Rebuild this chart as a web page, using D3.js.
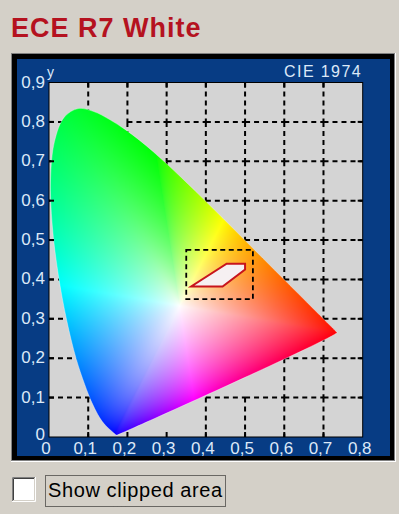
<!DOCTYPE html>
<html><head><meta charset="utf-8">
<script src="https://cdn.jsdelivr.net/npm/d3@7"></script>
<style>
html,body{margin:0;padding:0;background:#d4d0c8;}
svg{display:block;}
</style></head><body>
<svg id="chart" width="399" height="514"></svg>
<script>
// CIE 1931 spectral locus: wavelength (nm) and chromaticity x, y
const wavelengths = [380,400,420,430,440,450,460,465,470,475,480,485,490,495,500,505,510,515,520,525,530,535,540,545,550,555,560,565,570,575,580,585,590,595,600,610,620,630,640,650,660,680,700];
const locusX = [0.1741,0.1733,0.1714,0.1689,0.1644,0.1566,0.1440,0.1355,0.1241,0.1096,0.0913,0.0687,0.0454,0.0235,0.0082,0.0039,0.0139,0.0389,0.0743,0.1142,0.1547,0.1929,0.2296,0.2658,0.3016,0.3373,0.3731,0.4087,0.4441,0.4788,0.5125,0.5448,0.5752,0.6029,0.6270,0.6658,0.6915,0.7079,0.7190,0.7260,0.7300,0.7334,0.7347];
const locusY = [0.0050,0.0048,0.0051,0.0069,0.0109,0.0177,0.0297,0.0399,0.0578,0.0868,0.1327,0.2007,0.2950,0.4127,0.5384,0.6548,0.7502,0.8120,0.8338,0.8262,0.8059,0.7816,0.7543,0.7243,0.6923,0.6589,0.6245,0.5896,0.5547,0.5202,0.4866,0.4544,0.4242,0.3965,0.3725,0.3340,0.3083,0.2920,0.2809,0.2740,0.2700,0.2666,0.2653];
const whitePoint = [1/3, 1/3];

// axis ticks and labels
const xTicks = [0,0.1,0.2,0.3,0.4,0.5,0.6,0.7,0.8];
const yTicks = [0,0.1,0.2,0.3,0.4,0.5,0.6,0.7,0.8,0.9];
const xTickLabels = ["0","0,1","0,2","0,3","0,4","0,5","0,6","0,7","0,8"];
const yTickLabels = ["0","0,1","0,2","0,3","0,4","0,5","0,6","0,7","0,8","0,9"];

// ECE R7 white tolerance area
const whiteX = [0.3625,0.4427,0.5000,0.5000,0.4530];
const whiteY = [0.3820,0.3820,0.4250,0.4400,0.4400];

// detail window around the tolerance area
const boxX = [0.35,0.52];
const boxY = [0.35,0.475];

const svg = d3.select("#chart");
const x = d3.scaleLinear().domain([0,0.8]).range([49,362.7]);
const y = d3.scaleLinear().domain([0,0.9]).range([437,82.5]);

// sunken panel frame
svg.append("rect").attr("x",11).attr("y",53).attr("width",385).attr("height",409).attr("fill","#ffffff");
svg.append("rect").attr("x",11).attr("y",53).attr("width",384).attr("height",408).attr("fill","#808080");
svg.append("rect").attr("x",12).attr("y",54).attr("width",382).attr("height",406).attr("fill","#000000");
svg.append("rect").attr("x",17).attr("y",59).attr("width",373).attr("height",397).attr("fill","#073c84");

// plot background
const px0 = x(0), px1 = x(0.8), py0 = y(0.9), py1 = y(0);
svg.append("rect").attr("x",px0).attr("y",py0).attr("width",px1-px0).attr("height",py1-py0).attr("fill","#d4d4d4");

const locus = locusX.map((d,i)=>[d, locusY[i]]);
const inside = p => d3.polygonContains(locus, p);

// dashed grid, one cell edge at a time; an edge whose starting corner
// lies in the colour area is skipped (verticals run top-down, horizontals left-right)
const grid = svg.append("g").attr("stroke","#000").attr("stroke-width",2).attr("stroke-dasharray","5,4");
xTicks.slice(1,-1).forEach(xv => {
  for (let i = yTicks.length-1; i > 0; i--) {
    if (!inside([xv,yTicks[i]]))
      grid.append("line").attr("x1",x(xv)).attr("x2",x(xv)).attr("y1",y(yTicks[i])).attr("y2",y(yTicks[i-1]));
  }
});
yTicks.slice(1,-1).forEach(yv => {
  for (let i = 0; i < xTicks.length-1; i++) {
    if (!inside([xTicks[i],yv]))
      grid.append("line").attr("y1",y(yv)).attr("y2",y(yv)).attr("x1",x(xTicks[i])).attr("x2",x(xTicks[i+1]));
  }
});

// xy <-> u'v'
const toUV = (cx,cy) => { const d = -2*cx + 12*cy + 3; return [4*cx/d, 9*cy/d]; };
const toXY = (u,v) => { const d = 6*u - 16*v + 12; return [9*u/d, 4*v/d]; };

// saturated colour of a chromaticity (CIE RGB primaries, brightest channel = 1)
function saturated(cx, cy){
  const X = cx/cy, Y = 1, Z = (1-cx-cy)/cy;
  const r = Math.max(0, 0.41847*X - 0.15866*Y - 0.082835*Z);
  const g = Math.max(0, -0.091169*X + 0.25243*Y + 0.015708*Z);
  const b = Math.max(0, 0.0009209*X - 0.0025498*Y + 0.1786*Z);
  const m = Math.max(r,g,b) || 1;
  return [r,g,b].map(v => Math.pow(v/m, 1/1.5));
}

// rim of the locus seen from the white point in u'v', one entry per direction
const N = 2880;
const wUV = toUV(whitePoint[0], whitePoint[1]);
const rimUV = locus.map(p => toUV(p[0],p[1]));
rimUV.push(rimUV[0]);
const rim = d3.range(N).map(k => {
  const a = 2*Math.PI*k/N, dx = Math.cos(a), dy = Math.sin(a);
  let best = Infinity;
  for (let i=0;i<rimUV.length-1;i++){
    const [ax,ay] = rimUV[i], [bx,by] = rimUV[i+1];
    const ex = bx-ax, ey = by-ay;
    const den = dx*ey - dy*ex;
    if (Math.abs(den) < 1e-12) continue;
    const wx = ax-wUV[0], wy = ay-wUV[1];
    const s = (wx*ey - wy*ex)/den, u = (wx*dy - wy*dx)/den;
    if (s > 0 && u >= 0 && u <= 1 && s < best) best = s;
  }
  const p = toXY(wUV[0] + dx*best*0.995, wUV[1] + dy*best*0.995);
  return {R: best, c: saturated(p[0], p[1])};
});

// fill colour: blend from white at the white point to the saturated rim colour
function fillColour(cx, cy){
  const [u,v] = toUV(cx,cy);
  const dx = u-wUV[0], dy = v-wUV[1];
  let a = Math.atan2(dy,dx); if (a < 0) a += 2*Math.PI;
  const e = rim[Math.round(a/(2*Math.PI)*N) % N];
  const f = Math.pow(Math.min(1, Math.hypot(dx,dy)/e.R), 0.85);
  return e.c.map(c => Math.round(255*((1-f) + f*c)));
}

const W = Math.ceil(px1-px0), H = Math.ceil(py1-py0);
const cv = document.createElement("canvas");
cv.width = W; cv.height = H;
const ctx = cv.getContext("2d");
const img = ctx.createImageData(W,H);
for (let j=0;j<H;j++){
  const cy = y.invert(py0+j+0.5);
  for (let i=0;i<W;i++){
    const cx = x.invert(px0+i+0.5);
    const k = 4*(j*W+i);
    if (cy > 0.001 && cx > 0) {
      const c = fillColour(cx,cy);
      img.data[k]=c[0]; img.data[k+1]=c[1]; img.data[k+2]=c[2]; img.data[k+3]=255;
    }
  }
}
ctx.putImageData(img,0,0);

const locusPath = d3.line().x(d=>x(d[0])).y(d=>y(d[1])).curve(d3.curveCatmullRomClosed)(locus);
svg.append("clipPath").attr("id","gamut").append("path").attr("d",locusPath);
svg.append("image").attr("x",px0).attr("y",py0).attr("width",W).attr("height",H)
  .attr("href",cv.toDataURL()).attr("clip-path","url(#gamut)").attr("preserveAspectRatio","none");
svg.append("path").attr("d",locusPath).attr("fill","none").attr("stroke","#ffffff").attr("stroke-opacity",0.35).attr("stroke-width",1);

// detail window and tolerance area
svg.append("rect").attr("x",x(boxX[0])).attr("y",y(boxY[1])).attr("width",x(boxX[1])-x(boxX[0])).attr("height",y(boxY[0])-y(boxY[1]))
  .attr("fill","none").attr("stroke","#000").attr("stroke-width",1.8).attr("stroke-dasharray","5,3.5");
svg.append("path").attr("d", d3.line().x(d=>x(d[0])).y(d=>y(d[1]))(whiteX.map((d,i)=>[d,whiteY[i]])) + "Z")
  .attr("fill","#f6f0f2").attr("stroke","#c8141c").attr("stroke-width",2).attr("stroke-linejoin","miter");

// edge ticks
const ticks = svg.append("g").attr("stroke","#000").attr("stroke-width",2);
xTicks.slice(1,-1).forEach(xv => {
  ticks.append("line").attr("x1",x(xv)).attr("x2",x(xv)).attr("y1",py1).attr("y2",py1-5);
  ticks.append("line").attr("x1",x(xv)).attr("x2",x(xv)).attr("y1",py0).attr("y2",py0+5);
});
yTicks.slice(1,-1).forEach(yv => {
  ticks.append("line").attr("y1",y(yv)).attr("y2",y(yv)).attr("x1",px0).attr("x2",px0+5);
  ticks.append("line").attr("y1",y(yv)).attr("y2",y(yv)).attr("x1",px1).attr("x2",px1-5);
});
svg.append("rect").attr("x",px0).attr("y",py0).attr("width",px1-px0).attr("height",py1-py0)
  .attr("fill","none").attr("stroke","#000").attr("stroke-width",1);

// axis labels
const lab = svg.append("g").attr("font-family","Liberation Sans, Arial, sans-serif").attr("font-size",17).attr("fill","#dce9f8");
xTicks.forEach((xv,i) => lab.append("text").attr("x",x(xv)-3).attr("y",454).attr("text-anchor","middle").text(xTickLabels[i]));
yTicks.forEach((yv,i) => lab.append("text").attr("x",45).attr("y",Math.min(y(yv)+5,440)).attr("text-anchor","end").text(yTickLabels[i]));
lab.append("text").attr("x",47).attr("y",77).attr("font-size",14).text("y");
lab.append("text").attr("x",362).attr("y",77).attr("font-size",16).attr("letter-spacing",1.4).attr("text-anchor","end").text("CIE 1974");

// title
svg.append("text").attr("x",11).attr("y",37).attr("font-family","Liberation Sans, Arial, sans-serif")
  .attr("font-size",27).attr("font-weight","bold").attr("letter-spacing",1).attr("fill","#b5121f").text("ECE R7 White");

// checkbox
svg.append("rect").attr("x",12).attr("y",477).attr("width",23).attr("height",24).attr("fill","#ffffff");
svg.append("path").attr("d","M12.5,501 V477.5 H35").attr("fill","none").attr("stroke","#808080").attr("stroke-width",1);
svg.append("path").attr("d","M13.5,500 V478.5 H34").attr("fill","none").attr("stroke","#404040").attr("stroke-width",1);
svg.append("path").attr("d","M13,500.5 H34.5 V478").attr("fill","none").attr("stroke","#d4d0c8").attr("stroke-width",1);
svg.append("path").attr("d","M12,501.5 H35.5 V477").attr("fill","none").attr("stroke","#ffffff").attr("stroke-width",1);
svg.append("text").attr("x",48).attr("y",497).attr("font-family","Liberation Sans, Arial, sans-serif")
  .attr("font-size",20).attr("letter-spacing",0.6).attr("fill","#000").text("Show clipped area");
svg.append("rect").attr("x",45.5).attr("y",475.5).attr("width",180).attr("height",31)
  .attr("fill","none").attr("stroke","#000").attr("stroke-width",1).attr("stroke-dasharray","1,1");
</script>
</body></html>
